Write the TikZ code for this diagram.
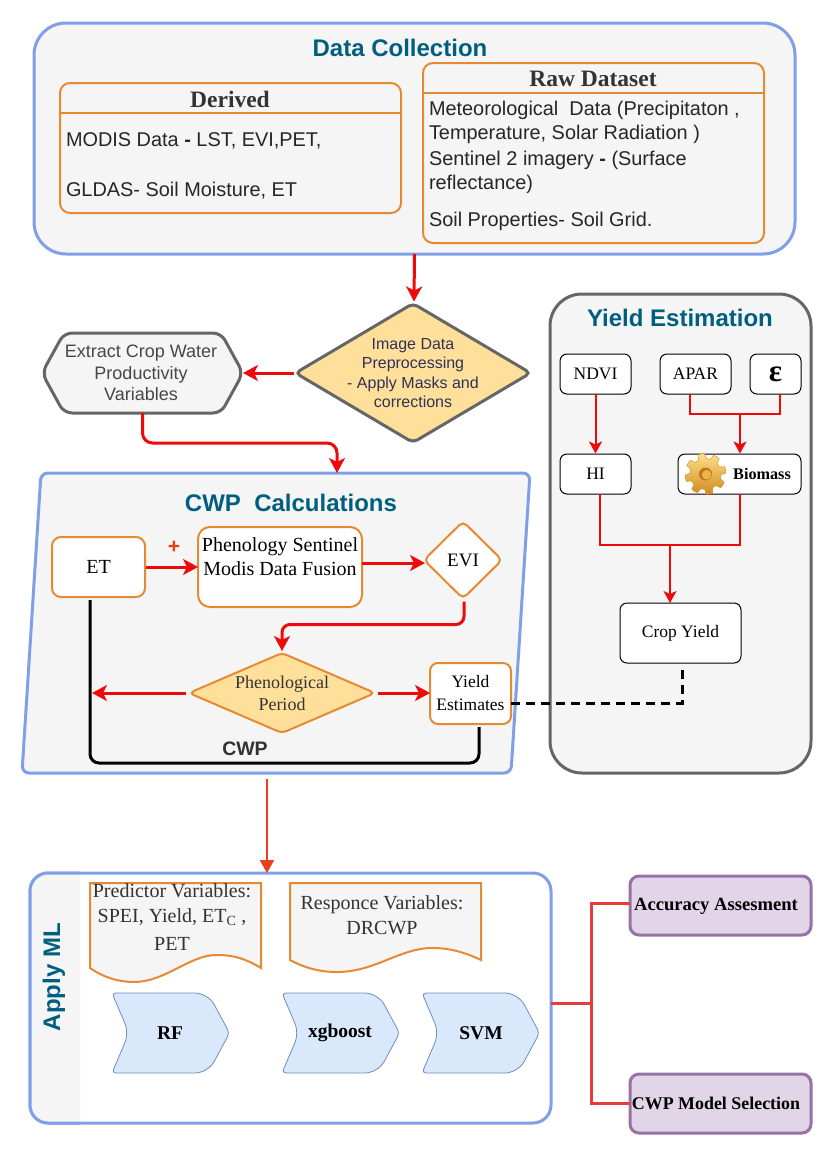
\documentclass[tikz,border=0pt]{standalone}
\usepackage{fontspec}
\setmainfont{Liberation Serif}
\setsansfont{Liberation Sans}
\usetikzlibrary{arrows.meta,calc,shapes.geometric}
\definecolor{cblue}{HTML}{7F9FE6}
\definecolor{corange}{HTML}{E58A33}
\definecolor{cgrey}{HTML}{666666}
\definecolor{cpanel}{HTML}{F5F5F5}
\definecolor{ctitle}{HTML}{005F7F}
\definecolor{cred}{HTML}{EE0A0A}
\definecolor{cyellow}{HTML}{FFE09A}
\definecolor{cchev}{HTML}{DAE8FC}
\definecolor{cchevl}{HTML}{6C8EBF}
\definecolor{cpurple}{HTML}{E1D5E7}
\definecolor{cpurpl}{HTML}{9673A6}
\definecolor{cconn}{HTML}{E83B3B}
\definecolor{cdown}{HTML}{E8401A}
\definecolor{cnavy}{HTML}{30305A}
\definecolor{ctext}{HTML}{333333}
\definecolor{gearhi}{HTML}{FFE08A}
\definecolor{gearlo}{HTML}{D08A1E}
\definecolor{gearln}{HTML}{C98A24}
\definecolor{gearho}{HTML}{B87A1C}
\definecolor{gearin}{HTML}{EDB548}
\newcommand{\fsz}[2]{\fontsize{#1}{#2}\selectfont}
\tikzset{
  x=1pt,y=-1pt,
  plain/.style={inner sep=0pt,outer sep=0pt},
  title/.style={plain,font=\sffamily\bfseries\fsz{24}{28},text=ctitle},
  head/.style={plain,font=\bfseries\fsz{23.5}{26},text=ctext},
  bodytext/.style={plain,anchor=west,align=left,font=\sffamily\fsz{19.9}{24},text=black!85},
  obox/.style={plain,draw=corange,line width=2pt,rounded corners=9pt,fill=white,font=\fsz{20}{24},align=center},
  kbox/.style={plain,draw=black,line width=1pt,rounded corners=7pt,fill=white,font=\fsz{17.5}{20},align=center},
  pbox/.style={plain,draw=cpurpl,line width=3pt,rounded corners=9pt,fill=cpurple},
  tip/.style={-{Stealth[length=15pt,width=16pt,inset=4pt]}},
  rarrow/.style={draw=cred,line width=3pt,tip},
  thinarrow/.style={draw=cred,line width=2pt,-{Stealth[length=12pt,width=13pt,inset=3pt]}},
  thinline/.style={draw=cred,line width=2pt},
  docshape/.style={draw=corange,line width=2pt,fill=cpanel},
  chev/.style={draw=cchevl,line width=0.8pt,fill=cchev},
  chevlabel/.style={plain,font=\bfseries\fsz{19.5}{22}},
  doctext/.style={plain,font=\fsz{20}{25},align=center,text=ctext},
}
\begin{document}
\begin{tikzpicture}
\useasboundingbox (0,0) rectangle (832,1162);
\fill[white] (0,0) rectangle (832,1162);
% Data collection
\node[plain,draw=cblue,line width=3pt,fill=cpanel,rounded corners=32pt,minimum width=761pt,minimum height=231pt] (dc) at (414.5,138.5) {};
\node[title] (dct) at (400,48) {Data Collection};
\node[plain,draw=corange,line width=2pt,fill=cpanel,rounded corners=10pt,minimum width=341pt,minimum height=130pt] (der) at (230.5,148) {};
\draw[corange,line width=2pt] (der.west |- 0,113) -- (der.east |- 0,113);
\node[head] (dert) at (230,99) {Derived};
\node[bodytext] (der1) at (66,141) {MODIS Data {\bfseries -} LST, EVI,PET,};
\node[bodytext] (der2) at (66,191) {GLDAS- Soil Moisture, ET};
\node[plain,draw=corange,line width=2pt,fill=cpanel,rounded corners=10pt,minimum width=341pt,minimum height=180pt] (raw) at (593.5,153) {};
\draw[corange,line width=2pt] (raw.west |- 0,93) -- (raw.east |- 0,93);
\node[head] (rawt) at (593,79) {Raw Dataset};
\node[bodytext] (raw1) at (429,122) {Meteorological\ \ Data (Precipitaton ,\\Temperature, Solar Radiation )};
\node[bodytext] (raw2) at (429,172) {Sentinel 2 imagery {\bfseries -} (Surface\\reflectance)};
\node[bodytext] (raw3) at (429,221) {Soil Properties- Soil Grid.};
% Image preprocessing
\node[plain,diamond,aspect=1.69,draw=cgrey,line width=3pt,fill=cyellow,rounded corners=5pt,minimum width=235pt,minimum height=139pt] (img) at (413,373) {};
\node[plain,font=\sffamily\fsz{16}{19.5},align=center,text=cnavy] (imgt) at (413,373) {Image Data\\Preprocessing\\- Apply Masks and\\corrections};
% Hexagon
\coordinate (hexc) at (142.5,373);
\draw[cgrey,line width=3pt,fill=cpanel,rounded corners=8pt] (42,373) -- (64,333) -- (221,333) -- (243,373) -- (221,413) -- (64,413) -- cycle;
\node[plain,minimum width=197pt,minimum height=80pt] (hex) at (hexc) {};
\node[plain,font=\sffamily\fsz{18}{21.5},align=center,text=ctext!90] (hext) at (141,373) {Extract Crop Water\\Productivity\\Variables};
% Yield estimation
\node[plain,draw=cgrey,line width=3pt,fill=cpanel,rounded corners=32pt,minimum width=261pt,minimum height=479pt] (ye) at (680.5,533.5) {};
\node[title] (yet) at (680,318) {Yield Estimation};
\node[kbox,minimum width=71pt,minimum height=40pt] (ndvi) at (595.5,374) {NDVI};
\node[kbox,minimum width=71pt,minimum height=40pt] (apar) at (695.5,374) {APAR};
\node[kbox,minimum width=51pt,minimum height=40pt,font=\bfseries\fsz{31}{31}] (eps) at (775.5,374) {ε};
\node[kbox,minimum width=71pt,minimum height=40pt] (hi) at (595.5,474) {HI};
\node[kbox,minimum width=123pt,minimum height=40pt] (bio) at (739.5,474) {};
\node[plain,font=\bfseries\fsz{16.2}{18}] (biot) at (762,474) {Biomass};
\begin{scope}[shift={(705.5,474)},rotate=12]
\path[top color=gearhi,bottom color=gearlo,draw=gearln,line width=.4pt,line join=round]
  (0:20.5)
  \foreach \a in {0,45,...,315}{
    -- (\a+9:20.5) -- (\a+15:15.5) -- (\a+30:15.5) -- (\a+36:20.5) -- (\a+45:20.5)
  } -- cycle;
\fill[gearho] (0,0) circle (6.5);
\fill[gearin] (1,1) circle (4.8);
\end{scope}
\node[kbox,minimum width=121pt,minimum height=60pt] (crop) at (680.5,633) {Crop Yield};
\draw[thinarrow] (ndvi.south) -- ($(hi.north)+(0,-0.5)$);
\coordinate (junb) at (740,414);
\draw[thinline] ($(apar.south)+(-5.5,0)$) |- (junb);
\draw[thinline] ($(eps.south)+(4.5,0)$) |- (junb);
\draw[thinarrow] (junb) -- ($(bio.north)+(0.5,-0.5)$);
\coordinate (juny) at (670,545);
\draw[thinline] ($(hi.south)+(4.5,0)$) |- (juny);
\draw[thinline] ($(bio.south)+(0.5,0)$) |- (juny);
\draw[thinarrow] (juny) -- ($(crop.north)+(-10.5,0)$);
% CWP calculations
\draw[cblue,line width=3pt,fill=cpanel,rounded corners=7pt] (41,473) -- (530,473) -- (511,773) -- (22,773) -- cycle;
\coordinate (cwptop) at (337,473);
\coordinate (cwpbot) at (267,775);
\node[title] (cwpt) at (291,503) {CWP\ \ Calculations};
\node[obox,minimum width=93pt,minimum height=60pt] (et) at (98.5,567) {ET};
\node[obox,rounded corners=12pt,minimum width=164pt,minimum height=80pt,anchor=center] (phen) at (280,567) {};
\node[plain,font=\fsz{20}{24},align=center] (phent) at (280,557) {Phenology Sentinel\\Modis Data Fusion};
\node[plain,diamond,aspect=1,draw=corange,line width=2pt,fill=white,rounded corners=5pt,minimum width=78pt,minimum height=77pt] (evi) at (463,560) {};
\node[plain,font=\fsz{19}{22}] (evit) at (463,560) {EVI};
\node[plain,font=\sffamily\bfseries\fsz{21}{20},text=cdown] (plus) at (174,547) {+};
\node[plain,diamond,aspect=2.35,draw=corange,line width=2pt,fill=cyellow,rounded corners=5pt,minimum width=186pt,minimum height=80pt] (per) at (282,693) {};
\node[plain,font=\fsz{18}{22},align=center,text=ctext] (pert) at (282,693) {Phenological\\Period};
\node[obox,rounded corners=8pt,minimum width=81pt,minimum height=61pt,font=\fsz{17.5}{23}] (est) at (470.5,693.5) {Yield\\Estimates};
\node[plain,font=\sffamily\bfseries\fsz{19.5}{20},text=ctext] (cwpl) at (245,749) {CWP};
\draw[rarrow] ($(et.east)+(1,0)$) -- (phen.west);
\draw[rarrow] (phen.east |- 0,563) -- ($(evi.west)+(1,3)$);
\draw[rarrow,rounded corners=8pt] ($(evi.south)+(1,3)$) -- ++(0,23) -| ($(per.north)+(0,-2)$);
\draw[rarrow] ($(per.west)+(-3,0)$) -- (92,693);
\draw[rarrow] ($(per.east)+(3,0)$) -- (est.west |- per.east);
\draw[black,line width=3pt,rounded corners=9pt] ($(et.south)+(-8.5,3)$) |- (479,763) -- ($(est.south)+(8.5,3)$);
\draw[black,line width=3pt,dash pattern=on 9pt off 6pt] (est.east |- 0,703) -- (682,703) -- ($(crop.south)+(1.5,2)$);
% Connectors between blocks
\draw[rarrow] (dc.south) -- ($(img.north)+(1,-2)$);
\draw[rarrow] ($(img.west)+(-2,0)$) -- ($(hex.east)+(2,0)$);
\draw[rarrow,rounded corners=10pt] (hex.south) -- ++(0,30) -| (cwptop);
% Apply ML
\node[plain,draw=cblue,line width=3pt,fill=white,rounded corners=18pt,minimum width=521pt,minimum height=250pt] (ml) at (290.5,998) {};
\begin{scope}
\clip (20,860) rectangle (80,1130);
\node[plain,draw=cblue,line width=3pt,fill=cpanel,rounded corners=18pt,minimum width=521pt,minimum height=250pt] (mlb) at (290.5,998) {};
\end{scope}
\node[title,rotate=90] (mlt) at (54,977) {Apply ML};
\draw[cdown,line width=2.2pt,-{Stealth[length=13pt,width=14pt,inset=0pt]}] (cwpbot) ++(0,4) -- (ml.north -| cwpbot);
\draw[docshape] (90,883) -- (261,883) -- (261,968) .. controls (240,955) and (225,955) .. (216,955) .. controls (190,955) and (165,982) .. (134,982) .. controls (115,982) and (100,975) .. (90,968) -- cycle;
\node[doctext] (pv) at (172,917) {Predictor Variables:\\[0pt]SPEI, Yield, ET$_{\mathrm{C}}$ ,\\[3pt]PET};
\draw[docshape] (290,883) -- (481,883) -- (481,960) .. controls (460,950) and (445,948) .. (432,948) .. controls (400,948) and (375,972) .. (337,972) .. controls (318,972) and (303,967) .. (290,960) -- cycle;
\node[doctext] (rv) at (382,915) {Responce Variables:\\DRCWP};
\newcommand{\chevron}[1]{\draw[chev] (#1+50,993) [rounded corners=13pt] -- (#1+95,993) [rounded corners=4pt] -- (#1+116.5,1033) [rounded corners=13pt] -- (#1+95,1073) [rounded corners=4pt] -- (#1-1,1073) [rounded corners=10pt] -- (#1+16,1033) [rounded corners=4pt] -- (#1-1,993) -- cycle;}
\chevron{113}\chevron{283}\chevron{423}
\node[chevlabel] (rf) at (170,1033) {RF};
\node[chevlabel] (xgb) at (340,1033) {xgboost};
\node[chevlabel] (svm) at (481,1033) {SVM};
% Purple
\node[pbox,minimum width=181pt,minimum height=59pt] (acc) at (720.5,905.5) {};
\node[plain,font=\bfseries\fsz{18.6}{22}] (acct) at (716,906) {Accuracy Assesment};
\node[pbox,minimum width=181pt,minimum height=59pt] (sel) at (720.5,1103.5) {};
\node[plain,font=\bfseries\fsz{17.9}{22}] (selt) at (716,1103) {CWP Model Selection};
\coordinate (jun) at (591,1003);
\draw[cconn,line width=3pt] (ml.east |- jun) -- (jun);
\draw[cconn,line width=3pt] (jun) |- (acc.west |- 0,903);
\draw[cconn,line width=3pt] (jun) |- (sel.west |- 0,1103);
\end{tikzpicture}
\end{document}
